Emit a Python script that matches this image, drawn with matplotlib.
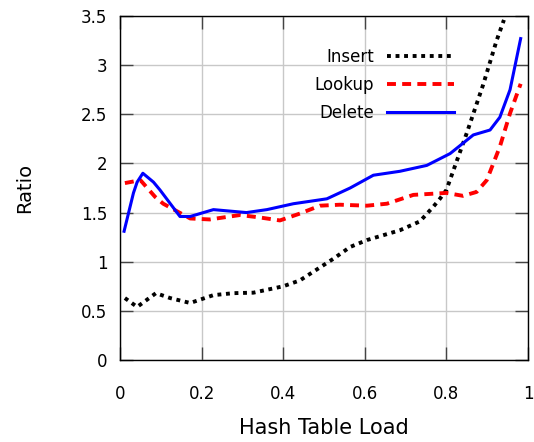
import numpy as np
import matplotlib.pyplot as plt

# Insert
ins_x = [0.012, 0.042, 0.088, 0.123, 0.172, 0.229, 0.278, 0.327, 0.40, 0.441, 0.482, 0.523,
         0.564, 0.605, 0.686, 0.735, 0.768, 0.784, 0.80, 0.85, 0.89, 0.923, 0.941]
ins_y = [0.63, 0.54, 0.68, 0.63, 0.58, 0.66, 0.68, 0.685, 0.75, 0.81, 0.92, 1.03,
         1.15, 1.22, 1.32, 1.41, 1.56, 1.64, 1.73, 2.31, 2.80, 3.25, 3.46]

# Lookup
look_x = [0.012, 0.05, 0.086, 0.106, 0.172, 0.22, 0.294, 0.343, 0.392, 0.441, 0.49, 0.539,
          0.605, 0.654, 0.719, 0.80, 0.841, 0.874, 0.899, 0.931, 0.956, 0.982]
look_y = [1.80, 1.83, 1.66, 1.59, 1.44, 1.43, 1.475, 1.45, 1.42, 1.49, 1.57, 1.58,
          1.57, 1.59, 1.68, 1.70, 1.67, 1.71, 1.83, 2.17, 2.51, 2.81]

# Delete
del_x = [0.01, 0.033, 0.042, 0.056, 0.082, 0.098, 0.147, 0.172, 0.229, 0.31, 0.36, 0.425,
         0.507, 0.564, 0.621, 0.686, 0.752, 0.809, 0.866, 0.907, 0.931, 0.956, 0.982]
del_y = [1.31, 1.70, 1.81, 1.90, 1.81, 1.73, 1.46, 1.46, 1.53, 1.50, 1.53, 1.59,
         1.64, 1.75, 1.88, 1.92, 1.98, 2.10, 2.29, 2.34, 2.47, 2.75, 3.27]

xticks = [0, 0.2, 0.4, 0.6, 0.8, 1]
xticklabels = ['0', '0.2', '0.4', '0.6', '0.8', '1']
yticks = [0, 0.5, 1, 1.5, 2, 2.5, 3, 3.5]
yticklabels = ['0', '0.5', '1', '1.5', '2', '2.5', '3', '3.5']

fig = plt.figure(figsize=(5.34, 4.42), dpi=100)
ax = fig.add_axes([120/534, 1-360/442, 408/534, 344/442])

ax.plot(ins_x, ins_y, color='black', lw=2.8, linestyle=(0, (1, 1.2)), label='Insert')
ax.plot(look_x, look_y, color='red', lw=2.8, linestyle=(0, (2.3, 1.6)), label='Lookup')
ax.plot(del_x, del_y, color='blue', lw=2.2, label='Delete')

ax.set_xlim(0, 1)
ax.set_ylim(0, 3.5)
ax.set_xticks(xticks)
ax.set_xticklabels(xticklabels)
ax.set_yticks(yticks)
ax.set_yticklabels(yticklabels)
ax.tick_params(direction='in', length=9.5, width=1, color='#444444',
               top=True, right=True, labelsize=12)
ax.tick_params(axis='x', pad=18)
ax.tick_params(axis='y', pad=9)
ax.grid(True, color='#c8c8c8', lw=1)
for s in ax.spines.values():
    s.set_linewidth(1.0)

ax.set_xlabel('Hash Table Load', fontsize=15, labelpad=11)
ax.set_ylabel('Ratio', fontsize=14, labelpad=34)

ax.legend(loc='upper right', bbox_to_anchor=(0.855, 0.95), frameon=False, markerfirst=False,
          fontsize=12, handlelength=4.0, labelspacing=0.6, handletextpad=0.8)

fig.savefig('out.png', dpi=100)
